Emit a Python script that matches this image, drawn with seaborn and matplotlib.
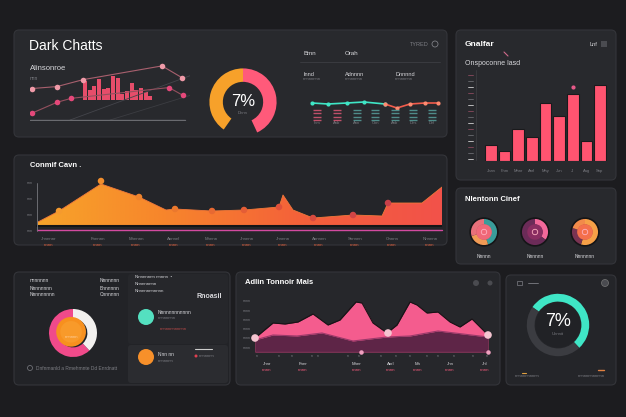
import numpy as np
import matplotlib
matplotlib.use("Agg")
import matplotlib.pyplot as plt
from matplotlib.patches import FancyBboxPatch, Circle
from matplotlib.colors import LinearSegmentedColormap
import seaborn as sns

W, H = 626, 417

#======== Data ========#
# top-left line chart
trend_a_x = [2, 27, 53, 132, 152]
trend_a = [32, 34, 41, 55, 43]
trend_b_x = [2, 27, 41, 139, 153]
trend_b = [7, 18, 22, 33, 25]
spike_x = [55, 60, 64, 69, 74, 78, 83, 88, 92, 97, 102, 106, 111, 116, 120]
spike_h = [20, 11, 15, 22, 12, 13, 25, 23, 6, 9, 18, 10, 13, 8, 4]

# gauge (pink, gap, orange)
gauge_parts = [155, 60, 145]

# status line
status_x = [12, 28, 47, 64, 85, 97, 110, 125, 138]
status_y = [22, 21, 22, 23, 21, 17, 21, 22, 22]
status_cols = [17, 37, 57, 75, 95, 113, 132]
status_rows = [15, 12, 8, 5]
status_labels = ["Inm", "Anb", "Ann", "Cnn", "Anb", "Dns", "Dnl"]

# bar panel
bar_labels = ["Jnan", "Fnm", "Mnnr", "Anrl", "Mny", "Jun", "Jl", "Aug", "Snp"]
bar_vals = [16, 10, 32, 24, 58, 45, 67, 20, 76]

# orange area chart
area_x = [10, 31, 73, 111, 138, 147, 184, 216, 251, 255, 265, 285, 325, 354, 360, 394, 414]
area_y = [5, 16, 43, 30, 17, 18, 16, 17, 20, 32, 17, 9, 12, 11, 24, 24, 40]
area_mx = [31, 73, 111, 147, 184, 216, 251, 285, 325, 360]
area_my = [16, 46, 30, 18, 16, 17, 20, 9, 12, 24]
area_labels = ["Jnnnnnr", "Fnnnnn", "Mnnnnn", "Annnnl", "Mnnnn", "Jnnnnn",
               "Jnnnnn", "Annnnn", "Snnnnn", "Onnnn", "Nnnnnn"]
area_sub = ["nnnn", "nnnn", "nnnn", "nnnn", "nnnn", "nnnn",
            "nnnn", "nnnn", "nnnn", "nnnn", "nnnn"]

# three small donuts
donut_names = ["Nnnnn", "Nnnnnn", "Nnnnnnn"]
donut_parts = [[45, 25, 30], [35, 65], [55, 25, 20]]
donut_cols = [["#3a9c9a", "#f09a55", "#e8707a"], ["#f2689a", "#6b2b58"],
              ["#f6a047", "#7a3352", "#f28a4a"]]
donut_core = ["#f06878", "#8a2d62", "#f4704c"]

# pie donut bottom-left (pink, white)
pie_parts = [62, 38]

# wave chart
wave_x = [5, 23, 35, 48, 63, 78, 90, 106, 112, 123, 137, 147, 160, 167, 177, 188, 200, 210, 222, 233, 238]
wave_y = [14, 29, 28, 30, 38, 27, 32, 50, 49, 29, 19, 27, 50, 47, 39, 40, 30, 25, 33, 22, 17]
low_x = [5, 23, 47, 72, 103, 137, 160, 188, 238]
low_y = [12, 17, 16, 19, 11, 15, 16, 21, 15]
wave_labels = ["Jnnr", "Fnnr", "Mnnr", "Anrl", "Mn", "Jnn", "Jnl"]

# teal gauge (teal, grey)
ring_parts = [192, 168]

#======== Helpers ========#
BG = "#1c1c1f"
PANEL = "#28292d"
EDGE = "#34353a"
PINK = "#ff5a7a"
ORANGE = "#f7a12a"
TEAL = "#3fe6c6"
TXT = "#d8d8dc"
DIM = "#7d7e84"


def rect(x0, y0, x1, y1):
    return [x0 / W, 1 - y1 / H, (x1 - x0) / W, (y1 - y0) / H]


def blank(ax):
    ax.set_facecolor("none")
    ax.set_xticks([])
    ax.set_yticks([])
    for s in ax.spines.values():
        s.set_visible(False)
    ax.set_xlabel("")
    ax.set_ylabel("")


sns.set_theme(style="dark")
plt.rcParams["font.family"] = ["Liberation Sans", "DejaVu Sans"]

fig = plt.figure(figsize=(6.26, 4.17), dpi=100)
fig.patch.set_facecolor(BG)

bg = fig.add_axes([0, 0, 1, 1])
bg.set_xlim(0, W)
bg.set_ylim(H, 0)
bg.axis("off")

panels = [(14, 30, 447, 137, PANEL), (456, 30, 616, 180, PANEL),
          (14, 155, 447, 245, "#242529"), (456, 188, 616, 264, PANEL),
          (14, 272, 230, 385, "#222327"), (236, 272, 500, 385, "#26272b"),
          (506, 275, 616, 385, "#242529")]
for x0, y0, x1, y1, c in panels:
    bg.add_patch(FancyBboxPatch((x0, y0), x1 - x0, y1 - y0,
                                boxstyle="round,pad=0,rounding_size=5",
                                fc=c, ec=EDGE, lw=0.8))
# sub sections bottom-left
bg.add_patch(FancyBboxPatch((128, 274), 100, 70, boxstyle="round,pad=0,rounding_size=3",
                            fc="#26272b", ec="none"))
bg.add_patch(FancyBboxPatch((128, 345), 100, 38, boxstyle="round,pad=0,rounding_size=3",
                            fc="#2b2c30", ec="none"))

#======== Panel 1: line chart ========#
bg.text(29, 46, "Dark Chatts", color="white", fontsize=10, va="center")
bg.text(30, 68, "Alinsonroe", color=TXT, fontsize=5.5, va="center")
bg.text(30, 78, "nnn", color=DIM, fontsize=3.5, va="center")

ax1 = fig.add_axes(rect(30, 60, 190, 121))
ax1.plot([40, 160], [0, 45], color="#44454b", lw=0.6)
ax1.plot([80, 160], [0, 25], color="#3c3d42", lw=0.6)
ax1.bar(spike_x, spike_h, bottom=20, width=3.4, color="#f2506e", edgecolor="none",
        linewidth=0, alpha=0.95)
sns.lineplot(x=trend_a_x, y=trend_a, ax=ax1, color="#a8606e", lw=0.8,
             marker="o", markersize=4, markerfacecolor="#f09aa8", markeredgewidth=0)
sns.lineplot(x=trend_b_x, y=trend_b, ax=ax1, color="#94505e", lw=0.8,
             marker="o", markersize=4, markerfacecolor="#e5487a", markeredgewidth=0)
ax1.plot([0, 155], [0, 0], color="#6a6b70", lw=1)
ax1.set_xlim(0, 160)
ax1.set_ylim(-1, 61)
blank(ax1)

# gauge
axg = fig.add_axes(rect(199, 60, 287, 144))
axg.pie(gauge_parts, colors=[PINK, "none", ORANGE], startangle=90, counterclock=False,
        wedgeprops=dict(width=0.4, edgecolor="none"))
axg.set_aspect("equal")
axg.text(0, 0.02, "7%", color="white", ha="center", va="center", fontsize=12)
axg.text(0, -0.32, "Dnnn", color=DIM, ha="center", va="center", fontsize=3)

# right status block
bg.text(303, 53, "Bmn", color=TXT, fontsize=4.5, va="center")
bg.text(345, 53, "Orah", color=TXT, fontsize=4.5, va="center")
bg.text(410, 44, "TYRED", color=DIM, fontsize=4, va="center")
bg.add_patch(Circle((435, 44), 3, fc="none", ec=DIM, lw=0.6))
bg.plot([300, 440], [62, 62], color="#3d3e43", lw=0.6)
for xx, t in zip([303, 345, 395], ["Innd", "Adnnnn", "Dnnnnd"]):
    bg.text(xx, 74, t, color=TXT, fontsize=4, va="center")
    bg.text(xx, 79, "nnnnnnnn", color=DIM, fontsize=3, va="center")

axs = fig.add_axes(rect(300, 95, 442, 125))
split = 5
sns.lineplot(x=status_x[:split], y=status_y[:split], ax=axs, color=TEAL, lw=1.2,
             marker="o", markersize=3, markeredgewidth=0)
sns.lineplot(x=status_x[split - 1:], y=status_y[split - 1:], ax=axs, color="#f25c4c", lw=1.2,
             marker="o", markersize=3, markeredgewidth=0, markerfacecolor="#ff8a70")
for i, cx in enumerate(status_cols):
    c = "#c0506a" if i < 2 else "#4f8c8a"
    axs.hlines(status_rows, cx - 4, cx + 4, color=c, lw=1)
axs.set_xlim(0, 142)
axs.set_ylim(0, 30)
blank(axs)
for cx, t in zip(status_cols, status_labels):
    bg.text(300 + cx, 123, t, color=DIM, fontsize=3, ha="center", va="center")

#======== Panel 2: bars ========#
bg.text(465, 44, "Gnalfar", color="white", fontsize=6, va="center", weight="bold")
bg.text(465, 63, "Onspoconne lasd", color=TXT, fontsize=5, va="center")
bg.text(590, 44, "Lnf", color=TXT, fontsize=4, va="center")
bg.add_patch(FancyBboxPatch((601, 41), 6, 6, boxstyle="square,pad=0", fc="#4a4b50", ec="none"))
bg.plot([504, 508], [52, 56], color="#d06a8a", lw=0.8)
bg.plot([476, 476], [70, 160], color="#3a3b40", lw=0.6)
for k, yy in enumerate(range(75, 162, 6)):
    bg.plot([468, 473], [yy, yy], color=["#8a4a5e", "#6a6b70", "#d0d0d0"][k % 3], lw=0.6)

axb = fig.add_axes(rect(484, 81, 607, 161))
sns.barplot(x=list(range(len(bar_vals))), y=bar_vals, ax=axb, color="#ff5470",
            width=0.85, saturation=1, edgecolor="#1a1a1c", linewidth=0.8)
axb.scatter([6], [74], color="#e85a8a", s=4, zorder=3)
axb.set_xlim(-0.5, 8.5)
axb.set_ylim(0, 80)
blank(axb)
for i, t in enumerate(bar_labels):
    bg.text(491 + i * 13.6, 171, t, color=DIM, fontsize=3, ha="center", va="center")

#======== Panel 3: orange area ========#
bg.text(30, 165, "Conmif Cavn .", color="white", fontsize=5.5, va="center", weight="bold")
axa = fig.add_axes(rect(28, 177, 442, 227))
poly = axa.fill_between(area_x, area_y, 0, color="none")
cmap = LinearSegmentedColormap.from_list("warm", ["#f7a62a", "#f7852c", "#f4603a", "#f2524a"])
grad = axa.imshow(np.linspace(0, 1, 256).reshape(1, -1), cmap=cmap, aspect="auto",
                  extent=[0, 414, 0, 50], zorder=1)
grad.set_clip_path(poly.get_paths()[0], transform=axa.transData)
sns.lineplot(x=area_x, y=area_y, ax=axa, color="#f0783a", lw=0.6, zorder=2)
mcmap = LinearSegmentedColormap.from_list("mk", ["#f59a2e", "#ec7a2c", "#e0503a", "#c8404a"])
sns.scatterplot(x=area_mx, y=area_my, ax=axa, hue=area_mx, palette=mcmap,
                s=22, edgecolor="none", legend=False, zorder=3)
axa.plot([9, 414], [0.5, 0.5], color="#151517", lw=1.5)
axa.plot([9, 414], [-3.5, -3.5], color="#d24aa0", lw=1, clip_on=False)
axa.plot([9, 9], [-4, 44], color="#77787d", lw=0.6, clip_on=False)
axa.set_xlim(0, 414)
axa.set_ylim(0, 50)
blank(axa)
for yy in [183, 199, 215, 231]:
    bg.text(33, yy, "nnn", color=DIM, fontsize=2.5, ha="right", va="center")
for i, (t, s) in enumerate(zip(area_labels, area_sub)):
    xx = [49, 98, 136, 174, 211, 247, 283, 319, 355, 392, 430][i]
    bg.text(xx, 239, t, color=DIM, fontsize=3.2, ha="center", va="center")
    bg.text(xx, 245, s, color="#e0603c", fontsize=3.2, ha="center", va="center")

#======== Panel 4: three donuts ========#
bg.text(465, 199, "Nlentonn Cinef", color="white", fontsize=5.5, va="center", weight="bold")
for i, cx in enumerate([484, 535, 585]):
    axd = fig.add_axes(rect(cx - 17, 215, cx + 17, 249))
    axd.pie(donut_parts[i], colors=donut_cols[i], startangle=90, counterclock=False,
            wedgeprops=dict(width=0.45, edgecolor="none"))
    axd.add_patch(Circle((0, 0), 0.58, fc=donut_core[i], ec="none"))
    axd.add_patch(Circle((0, 0), 1.02, fc="none", ec="#151517", lw=1.2))
    axd.add_patch(Circle((0, 0), 0.2, fc="none", ec="#ffb0c0", lw=0.6))
    axd.set_aspect("equal")
    bg.text(cx, 257, donut_names[i], color=TXT, fontsize=3.5, ha="center", va="center")

#======== Panel 5: pie + list ========#
for yy, t in zip([280, 288, 295], ["nnnnnnn", "Nnnnnnnn", "Nnnnnnnnn"]):
    bg.text(30, yy, t, color=TXT, fontsize=3.5, va="center")
for yy, t in zip([280, 288, 295], ["Nnnnnnn", "Bnnnnnn", "Cnnnnnn"]):
    bg.text(100, yy, t, color=TXT, fontsize=3.5, va="center")
axp = fig.add_axes(rect(43, 303, 103, 363))
axp.pie(pie_parts, colors=["#f04a8a", "#f2f0ee"], startangle=90, counterclock=True,
        wedgeprops=dict(width=0.4, edgecolor="none"))
axp.add_patch(Circle((-0.08, 0.05), 0.62, fc="#f7901e", ec="none"))
axp.add_patch(Circle((-0.08, 0.05), 0.45, fc="#f89a2a", ec="none"))
axp.text(-0.05, -0.15, "nnnnnn", color="#ffd0a0", fontsize=3, ha="center", va="center")
axp.set_aspect("equal")
bg.add_patch(Circle((30, 368), 2.5, fc="none", ec=DIM, lw=0.5))
bg.text(36, 368, "Dnfnmanld a Rmehmnte Dd Enrdnatt", color=DIM, fontsize=3.5, va="center")

for yy, t in zip([277, 284, 291], ["Nnnnnnnn nnnnn  •", "Nnnnnnnnn", "Nnnnnnnnnnnn"]):
    bg.text(135, yy, t, color=TXT, fontsize=3.2, va="center")
bg.text(222, 297, "Rnoasil", color=TXT, fontsize=5, ha="right", va="center", weight="bold")
bg.add_patch(Circle((146, 317), 8, fc="#54e0c0", ec="none"))
bg.text(158, 313, "Nnnnnnnnnnnn", color=TXT, fontsize=3.5, va="center")
bg.text(158, 318, "nnnnnnnn", color=DIM, fontsize=3, va="center")
bg.text(160, 329, "nnnnnnnnnnnn", color="#c04a4a", fontsize=3, va="center")
bg.add_patch(Circle((146, 357), 8, fc="#f7902a", ec="none"))
bg.text(158, 355, "Nnn nn", color=TXT, fontsize=3.5, va="center")
bg.text(158, 361, "nnnnnnn", color=DIM, fontsize=3, va="center")
bg.plot([195, 212], [349, 349], color="#cccccc", lw=0.8)
bg.add_patch(Circle((196, 356), 1.5, fc="#e04050", ec="none"))
bg.text(199, 356, "nnnnnnn", color=DIM, fontsize=3, va="center")

#======== Panel 6: wave chart ========#
bg.text(245, 283, "Adlin Tonnoir Mals", color="white", fontsize=5.5, va="center", weight="bold")
bg.add_patch(Circle((476, 283), 3, fc="#4a4b50", ec="none"))
bg.add_patch(Circle((490, 283), 2.5, fc="#4a4b50", ec="none"))
axw = fig.add_axes(rect(250, 297, 492, 352))
axw.fill_between(wave_x, wave_y, 0, color="#f45c8e", lw=0)
sns.lineplot(x=wave_x, y=wave_y, ax=axw, color="#1a1216", lw=0.8)
axw.fill_between(low_x, low_y, 0, color="#5e2547", lw=0)
sns.lineplot(x=low_x, y=low_y, ax=axw, color="#9a3a6a", lw=0.8)
axw.plot([5, 238], [0, 0], color="#e06a9a", lw=0.8)
sns.scatterplot(x=[wave_x[0], 138, wave_x[-1]], y=[wave_y[0], 19, wave_y[-1]], ax=axw,
                color="#f4c4d0", s=30, edgecolor="none", zorder=4)
axw.scatter([111, 238], [0, 0], color="#f0a0c0", s=5, zorder=4, clip_on=False)
axw.set_xlim(0, 242)
axw.set_ylim(0, 55)
blank(axw)
for yy in [301, 311, 320, 329, 338, 348]:
    bg.text(251, yy, "nnnn", color=DIM, fontsize=2.5, ha="right", va="center")
for xx in [257, 279, 292, 312, 318, 348, 359, 381, 396, 410, 427, 438, 454, 473, 487]:
    bg.text(xx, 356, "n", color=DIM, fontsize=2.5, ha="center", va="center")
for xx, t in zip([267, 303, 357, 391, 418, 450, 485], wave_labels):
    bg.text(xx, 364, t, color=TXT, fontsize=3.2, ha="center", va="center")
    bg.text(xx, 370, "nnnn", color="#f05a7a", fontsize=3.2, ha="center", va="center")

#======== Panel 7: teal ring ========#
bg.add_patch(FancyBboxPatch((517, 281), 5, 4, boxstyle="square,pad=0", fc="none", ec=DIM, lw=0.5))
bg.plot([528, 538], [283, 283], color=DIM, lw=0.6)
bg.add_patch(Circle((605, 283), 3.5, fc="#4a4b50", ec="#777", lw=0.5))
axr = fig.add_axes(rect(519, 286, 597, 364))
axr.pie(ring_parts, colors=[TEAL, "#3b3c41"], startangle=145, counterclock=False,
        wedgeprops=dict(width=0.25, edgecolor="none"))
axr.add_patch(Circle((0, 0), 0.72, fc="#212226", ec="none"))
axr.text(0, 0.1, "7%", color="white", fontsize=13, ha="center", va="center")
axr.text(0, -0.28, "Unnnit", color=DIM, fontsize=3, ha="center", va="center")
axr.set_aspect("equal")
bg.plot([522, 526], [373, 373], color="#e0a040", lw=0.8)
bg.text(515, 376, "nnnnnnnnnnn", color=DIM, fontsize=3, va="center")
bg.plot([598, 604], [370, 370], color="#e08040", lw=1)
bg.text(578, 376, "nnnnnnnnnnnn", color=DIM, fontsize=3, va="center")

fig.savefig("out.png", dpi=100, facecolor=BG)
